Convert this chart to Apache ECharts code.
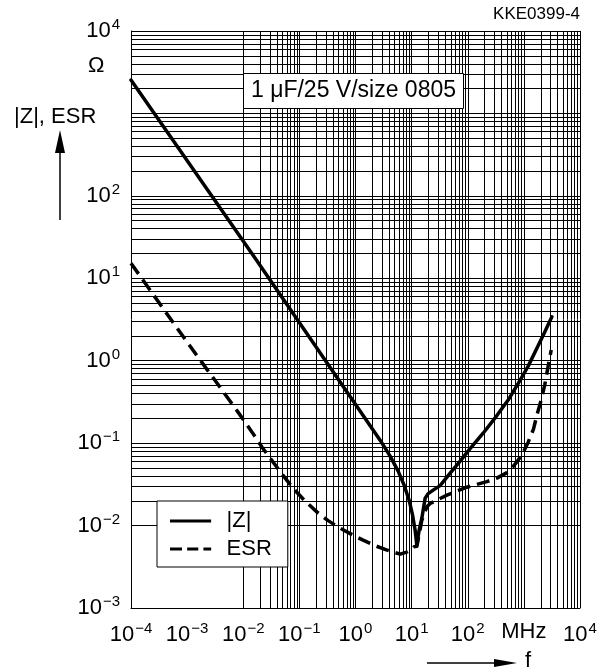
<!DOCTYPE html>
<html>
<head>
<meta charset="utf-8">
<script src="https://cdn.jsdelivr.net/npm/echarts@6/dist/echarts.min.js"></script>
<style>
html,body{margin:0;padding:0;background:#fff;}
#chart{width:603px;height:672px;}
</style>
</head>
<body>
<div id="chart"></div>
<script>
// Frequency in MHz, values in Ohm
const zFreq = [1e-4, 0.0162, 2.745, 4.14, 5.75, 7.35, 9.03, 10.4, 11.55, 12.38, 13.6, 15.2, 17.4, 19.7, 24.2, 32.2, 48.6, 73.2, 110, 188, 330, 525, 859, 1193, 1705, 2300, 3155];
const zVals = [2540, 17.6, 0.1087, 0.0695, 0.0457, 0.0309, 0.0203, 0.01337, 0.00879, 0.00578, 0.00879, 0.0123, 0.0215, 0.0244, 0.0269, 0.0305, 0.0433, 0.0605, 0.0857, 0.132, 0.216, 0.333, 0.581, 0.860, 1.42, 2.16, 3.41];

const esrFreq = [1e-4, 8.55e-4, 0.00807, 0.01435, 0.02163, 0.0301, 0.0492, 0.0773, 0.1265, 0.207, 0.325, 0.531, 0.869, 1.365, 2.23, 3.66, 6.24, 8.20, 9.80, 11.1, 12.4, 15.2, 18.7, 21.4, 42.5, 96.4, 219, 330, 483, 653, 791, 984, 1194, 1483, 1726, 2034, 2350, 2750, 3070];
const esrVals = [15.2, 1.95, 0.238, 0.136, 0.0893, 0.0658, 0.0421, 0.0284, 0.0198, 0.01455, 0.01148, 0.00929, 0.00776, 0.00665, 0.00570, 0.00503, 0.00450, 0.00477, 0.00510, 0.00555, 0.0056, 0.0116, 0.0169, 0.0185, 0.0234, 0.0292, 0.0341, 0.0376, 0.0433, 0.0526, 0.0622, 0.0784, 0.1028, 0.148, 0.225, 0.333, 0.506, 0.910, 1.35];

const xTickExps = [-4, -3, -2, -1, 0, 1, 2, 3, 4];
const yTickExps = [-3, -2, -1, 0, 1, 2, 3, 4];
const xUnitLabel = 'MHz';   // shown in place of 10^3
const seriesNames = ['|Z|', 'ESR'];
const titleText = '1 \u03bcF/25 V/size 0805';
const codeText = 'KKE0399-4';

const FONT = 'Liberation Sans, Arial, Helvetica, sans-serif';

// log grid lines (1..9 per decade)
function logGrid(exps) {
  const out = [];
  for (let i = 0; i < exps.length - 1; i++) {
    for (let m = 1; m < 10; m++) out.push(m * Math.pow(10, exps[i]));
  }
  out.push(Math.pow(10, exps[exps.length - 1]));
  return out;
}
const gridLinesData = [];
logGrid(xTickExps).forEach(v => gridLinesData.push({ xAxis: v }));
logGrid(yTickExps).forEach(v => gridLinesData.push({ yAxis: v }));

const chart = echarts.init(document.getElementById('chart'), null, { renderer: 'canvas' });

const richLabel = {
  b: { fontSize: 22, fontFamily: FONT, color: '#000' },
  s: { fontSize: 15, fontFamily: FONT, color: '#000', padding: [0, 0, 12, 1] }
};

function expOf(v) { return Math.round(Math.log10(v)); }
function expText(e) { return e < 0 ? '\u2212' + (-e) : String(e); }

const option = {
  animation: false,
  backgroundColor: '#fff',
  title: {
    text: titleText,
    left: 243, top: 73,
    padding: [6, 8, 6, 8],
    backgroundColor: '#fff',
    borderColor: '#000',
    borderWidth: 1,
    textStyle: { fontSize: 23, fontWeight: 'normal', fontFamily: FONT, color: '#000', lineHeight: 24 }
  },
  legend: {
    orient: 'vertical',
    left: 157, top: 501,
    padding: [9, 16, 7, 13],
    itemGap: 6,
    itemWidth: 48,
    itemHeight: 3,
    backgroundColor: '#fff',
    borderColor: '#000',
    borderWidth: 1,
    borderRadius: 0,
    textStyle: { fontSize: 22, fontFamily: FONT, color: '#000', lineHeight: 22, padding: [0, 0, 0, 7] },
    data: [
      { name: seriesNames[0], icon: 'path://M0,0H48V3.5H0Z' },
      { name: seriesNames[1], icon: 'path://M0,0H14V3.5H0Z M20,0H33V3.5H20Z M39,0H48V3.5H39Z' }
    ]
  },
  grid: { left: 131, top: 31, right: 23, bottom: 64, containLabel: false },
  xAxis: {
    type: 'log', logBase: 10,
    min: Math.pow(10, xTickExps[0]), max: Math.pow(10, xTickExps[xTickExps.length - 1]),
    interval: 1, splitNumber: 8,
    axisLine: { show: true, lineStyle: { color: '#000', width: 1 } },
    axisTick: { show: false },
    splitLine: { show: false },
    axisLabel: {
      margin: 13,
      formatter: function (v) {
        const e = expOf(v);
        if (e === 3) return '{b|' + xUnitLabel + '}';
        return '{b|10}{s|' + expText(e) + '}';
      },
      rich: richLabel
    }
  },
  yAxis: {
    type: 'log', logBase: 10,
    min: Math.pow(10, yTickExps[0]), max: Math.pow(10, yTickExps[yTickExps.length - 1]),
    interval: 1, splitNumber: 7,
    axisLine: { show: true, lineStyle: { color: '#000', width: 1 } },
    axisTick: { show: false },
    splitLine: { show: false },
    axisLabel: {
      margin: 11,
      formatter: function (v) {
        const e = expOf(v);
        if (e === 3) return '';
        return '{b|10}{s|' + expText(e) + '}';
      },
      rich: richLabel
    }
  },
  series: [
    {
      name: seriesNames[0],
      type: 'line',
      z: 3,
      symbol: 'none',
      smooth: false,
      data: zFreq.map((f, i) => [f, zVals[i]]),
      lineStyle: { color: '#000', width: 3.5, type: 'solid', join: 'round', cap: 'round' },
      itemStyle: { color: '#000' },
      markLine: {
        z: 1,
        silent: true,
        symbol: ['none', 'none'],
        label: { show: false },
        lineStyle: { color: '#000', width: 1, type: 'solid' },
        emphasis: { disabled: true },
        data: gridLinesData
      }
    },
    {
      name: seriesNames[1],
      type: 'line',
      z: 3,
      symbol: 'none',
      smooth: false,
      data: esrFreq.map((f, i) => [f, esrVals[i]]),
      lineStyle: { color: '#000', width: 3.5, type: [13, 7], join: 'round' },
      itemStyle: { color: '#000' }
    }
  ],
  graphic: [
    { type: 'text', right: 23, top: 6, style: { text: codeText, font: '17px ' + FONT, fill: '#000' } },
    { type: 'text', left: 88, top: 55, style: { text: '\u03a9', font: '22px ' + FONT, fill: '#000' } },
    { type: 'text', left: 14, top: 106, style: { text: '|Z|, ESR', font: '22px ' + FONT, fill: '#000' } },
    { type: 'line', shape: { x1: 60, y1: 220, x2: 60, y2: 148 }, style: { stroke: '#000', lineWidth: 1.5 } },
    { type: 'polygon', shape: { points: [[60, 130], [55, 153], [65, 153]] }, style: { fill: '#000' } },
    { type: 'line', shape: { x1: 427, y1: 663, x2: 500, y2: 663 }, style: { stroke: '#000', lineWidth: 1.5 } },
    { type: 'polygon', shape: { points: [[517, 663], [494, 659], [494, 667]] }, style: { fill: '#000' } },
    { type: 'text', left: 525, top: 650, style: { text: 'f', font: '22px ' + FONT, fill: '#000' } }
  ]
};
chart.setOption(option);
</script>
</body>
</html>
